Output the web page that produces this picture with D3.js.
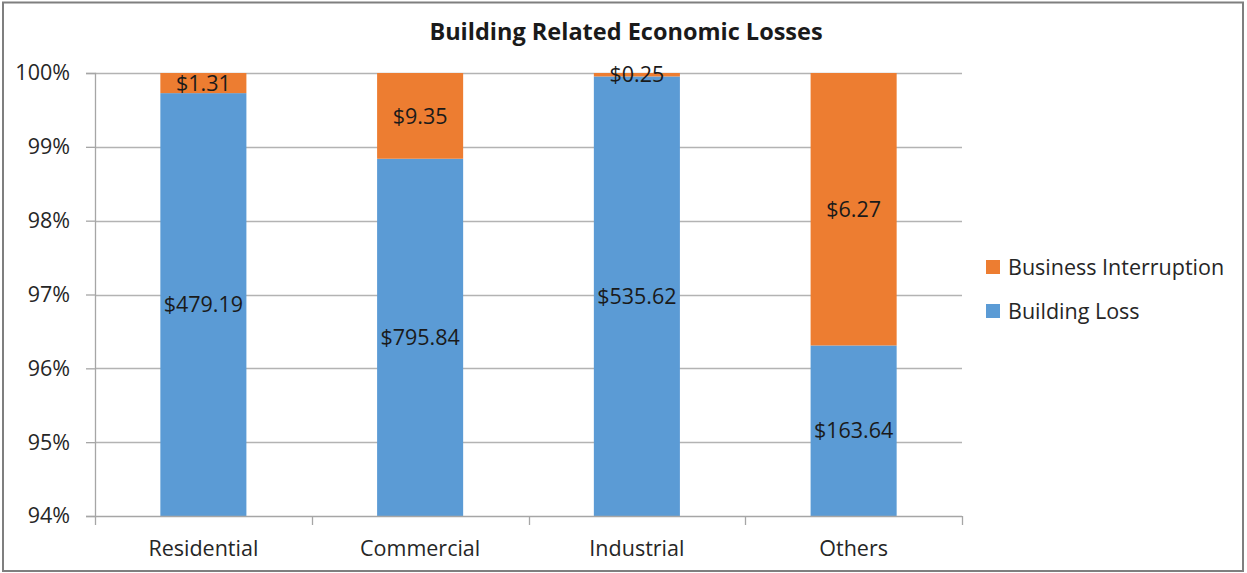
<!DOCTYPE html>
<html>
<head>
<meta charset="utf-8">
<script src="https://cdn.jsdelivr.net/npm/d3@7"></script>
<style>
  html, body { margin: 0; padding: 0; background: #fff; }
  svg { display: block; font-family: "Open Sans", Lato, sans-serif; }
</style>
</head>
<body>
<svg id="chart" width="1247" height="573"></svg>
<script>
const categories = ["Residential", "Commercial", "Industrial", "Others"];
const buildingLoss = [479.19, 795.84, 535.62, 163.64];
const businessInterruption = [1.31, 9.35, 0.25, 6.27];
const seriesNames = ["Building Loss", "Business Interruption"];
const yTicks = [0.94, 0.95, 0.96, 0.97, 0.98, 0.99, 1.00];
const title = "Building Related Economic Losses";

const colors = { "Building Loss": "#5B9BD5", "Business Interruption": "#ED7D31" };
const FONT = "'Open Sans', Lato, sans-serif";
const FS = 21.5;

const rows = categories.map((c, i) => ({
  category: c,
  "Building Loss": buildingLoss[i],
  "Business Interruption": businessInterruption[i]
}));

const svg = d3.select("#chart");
const plot = { left: 95, right: 962, top: 73, bottom: 516 };

// outer border
svg.append("rect")
  .attr("x", 3).attr("y", 2.5).attr("width", 1240).attr("height", 568.5)
  .attr("fill", "#fff").attr("stroke", "#7f7f7f").attr("stroke-width", 2);

const x = d3.scaleBand().domain(categories)
  .range([plot.left, plot.right]).paddingInner(0.603).paddingOuter(0.3015);
const y = d3.scaleLinear().domain([0.94, 1.0]).range([plot.bottom, plot.top]);

// gridlines
svg.append("g").selectAll("line").data(yTicks.slice(1)).join("line")
  .attr("x1", plot.left).attr("x2", plot.right)
  .attr("y1", d => Math.round(y(d)) + 0.5).attr("y2", d => Math.round(y(d)) + 0.5)
  .attr("stroke", "#b3b3b3").attr("stroke-width", 1.3);

// stacked bars
const stack = d3.stack().keys(seriesNames).offset(d3.stackOffsetExpand);
const stacked = stack(rows);

svg.append("clipPath").attr("id", "plotclip").append("rect")
  .attr("x", plot.left).attr("y", plot.top)
  .attr("width", plot.right - plot.left).attr("height", plot.bottom - plot.top);

const barsG = svg.append("g").attr("clip-path", "url(#plotclip)");
barsG.selectAll("g").data(stacked).join("g")
  .attr("fill", d => colors[d.key])
  .selectAll("rect").data(d => d).join("rect")
  .attr("x", d => x(d.data.category))
  .attr("width", x.bandwidth())
  .attr("y", d => y(d[1]))
  .attr("height", d => y(d[0]) - y(d[1]));

// data labels
const labels = [];
stacked.forEach(s => s.forEach(d => {
  const lo = Math.max(d[0], 0.94), hi = Math.min(d[1], 1.0);
  labels.push({ cx: x(d.data.category) + x.bandwidth() / 2, cy: (y(lo) + y(hi)) / 2, v: d.data[s.key] });
}));
svg.append("g").selectAll("text").data(labels).join("text")
  .attr("x", d => d.cx).attr("y", d => d.cy).attr("dy", "0.36em")
  .attr("text-anchor", "middle").attr("font-size", FS).attr("fill", "#1a1a1a")
  .text(d => "$" + d3.format(".2f")(d.v));

// y axis
const yAxis = d3.axisLeft(y).tickValues(yTicks).tickFormat(d3.format(".0%")).tickSize(9).tickPadding(16);
const gy = svg.append("g").attr("transform", `translate(${plot.left},0)`).call(yAxis);
gy.select(".domain").attr("stroke", "#a6a6a6").attr("stroke-width", 1.3);
gy.selectAll(".tick line").attr("stroke", "#a6a6a6").attr("stroke-width", 1.3);
gy.selectAll(".tick text").attr("font-size", FS).attr("fill", "#262626").attr("font-family", FONT);

// x axis baseline and ticks at category boundaries
const gx = svg.append("g");
gx.append("line").attr("x1", plot.left).attr("x2", plot.right)
  .attr("y1", plot.bottom + 0.5).attr("y2", plot.bottom + 0.5)
  .attr("stroke", "#a6a6a6").attr("stroke-width", 1.3);
const boundaries = categories.map(c => x(c) - x.step() * x.paddingOuter()).concat([plot.right]);
gx.selectAll("line.tk").data(boundaries).join("line").attr("class", "tk")
  .attr("x1", d => Math.round(d) + 0.5).attr("x2", d => Math.round(d) + 0.5)
  .attr("y1", plot.bottom).attr("y2", plot.bottom + 9)
  .attr("stroke", "#a6a6a6").attr("stroke-width", 1.3);
gx.selectAll("text").data(categories).join("text")
  .attr("x", d => x(d) + x.bandwidth() / 2).attr("y", 556)
  .attr("text-anchor", "middle").attr("font-size", FS).attr("fill", "#262626")
  .text(d => d);

// title
svg.append("text").attr("x", 626).attr("y", 40).attr("text-anchor", "middle")
  .attr("font-size", 23.5).attr("font-weight", "bold").attr("fill", "#1a1a1a")
  .text(title);

// legend
const legendItems = ["Business Interruption", "Building Loss"];
const lg = svg.append("g").selectAll("g").data(legendItems).join("g")
  .attr("transform", (d, i) => `translate(986, ${260 + i * 44})`);
lg.append("rect").attr("width", 14).attr("height", 14).attr("fill", d => colors[d]);
lg.append("text").attr("x", 22).attr("y", 7).attr("dy", "0.36em")
  .attr("font-size", FS).attr("fill", "#262626").text(d => d);
</script>
</body>
</html>
